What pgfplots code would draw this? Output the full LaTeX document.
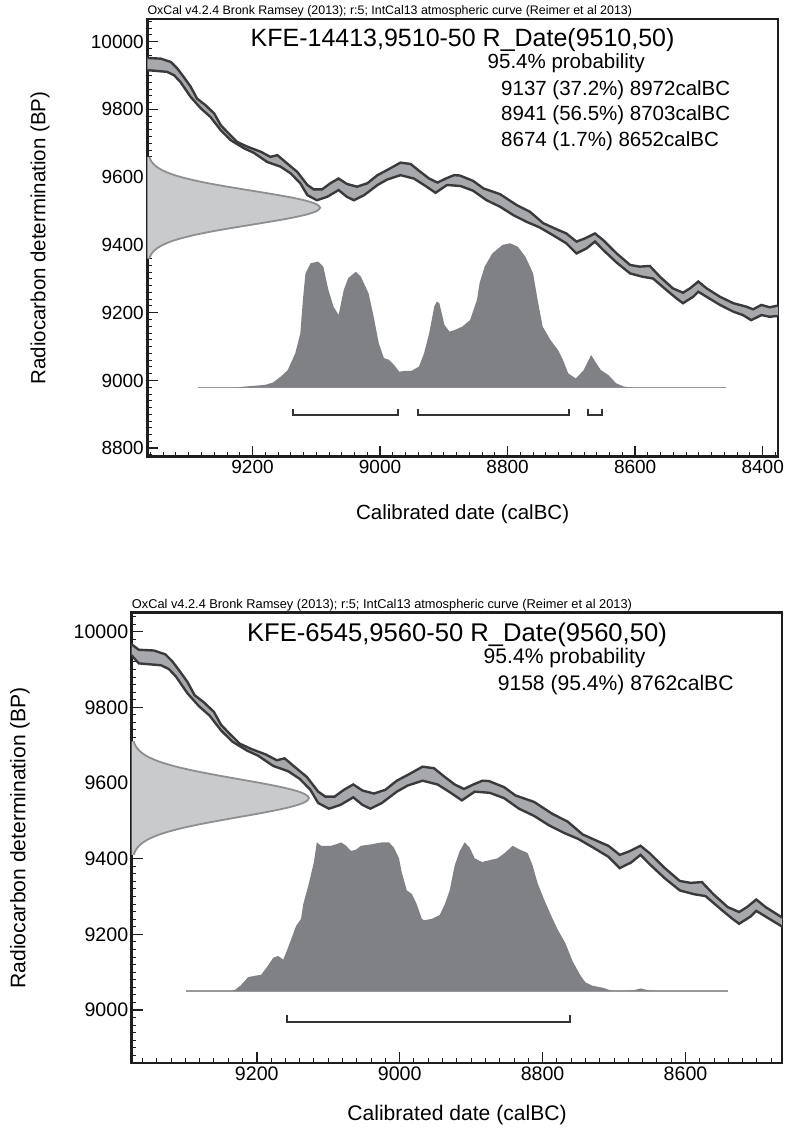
\documentclass[border=0pt]{standalone}
\usepackage{fontspec}
\setmainfont{Liberation Sans}
\usepackage{pgfplots}
\usepackage{pgfplotstable}
\pgfplotsset{compat=1.18}
\usepgfplotslibrary{fillbetween}

\definecolor{band}{HTML}{A7A8AB}
\definecolor{bandline}{HTML}{3A3A3C}
\definecolor{gauss}{HTML}{C9CACC}
\definecolor{gaussline}{HTML}{8E8F91}
\definecolor{post}{HTML}{808184}
\definecolor{baseln}{HTML}{9C9C9E}
\definecolor{framec}{HTML}{1E1E1E}
\definecolor{brack}{HTML}{333333}

% IntCal13 curve, upper edge (calBC, BP)
\pgfplotstableread{
x y
9395 9985
9375 9966
9365 9952
9344 9950
9328 9940
9318 9921
9308 9896
9297 9867
9287 9832
9274 9813
9260 9788
9250 9754
9240 9734
9224 9704
9208 9690
9187 9675
9172 9660
9161 9665
9146 9641
9130 9616
9114 9577
9104 9564
9091 9564
9078 9582
9065 9596
9052 9580
9036 9572
9020 9582
9004 9606
8989 9621
8968 9643
8952 9639
8937 9616
8923 9596
8910 9584
8897 9596
8884 9606
8875 9605
8854 9589
8838 9567
8812 9550
8786 9518
8765 9498
8744 9464
8718 9442
8708 9434
8692 9410
8679 9419
8663 9434
8650 9414
8629 9375
8608 9341
8593 9336
8577 9338
8561 9306
8541 9272
8525 9259
8514 9272
8501 9292
8488 9272
8467 9247
8446 9228
8426 9218
8415 9210
8402 9223
8389 9216
8379 9220
8360 9222
}\calhi

% IntCal13 curve, lower edge (calBC, BP)
\pgfplotstableread{
x y
9395 9958
9375 9937
9365 9916
9334 9911
9323 9901
9313 9881
9297 9837
9281 9803
9266 9778
9250 9739
9234 9709
9213 9685
9198 9672
9177 9645
9156 9631
9140 9611
9125 9582
9114 9547
9099 9532
9083 9542
9065 9562
9052 9542
9041 9532
9025 9547
9004 9577
8989 9593
8968 9606
8947 9596
8931 9577
8913 9554
8895 9577
8874 9574
8854 9560
8833 9532
8812 9513
8791 9488
8770 9468
8750 9452
8729 9429
8708 9405
8692 9375
8676 9390
8663 9410
8650 9385
8629 9348
8608 9316
8588 9306
8572 9301
8551 9267
8535 9242
8525 9228
8509 9247
8501 9262
8488 9247
8467 9223
8446 9203
8431 9193
8418 9178
8402 9193
8389 9188
8379 9190
8360 9192
}\callo

% R_Date(9510,50) drawn from the y axis
\pgfplotstableread{
x y
9362.0 9360
9359.6 9370
9355.8 9380
9349.8 9390
9340.9 9400
9328.4 9410
9311.3 9420
9289.7 9430
9263.4 9440
9233.0 9450
9200.6 9460
9168.3 9470
9138.7 9480
9114.9 9490
9099.4 9500
9094.0 9510
9099.4 9520
9114.9 9530
9138.7 9540
9168.3 9550
9200.6 9560
9233.0 9570
9263.4 9580
9289.7 9590
9311.3 9600
9328.4 9610
9340.9 9620
9349.8 9630
9355.8 9640
9359.6 9650
9362.0 9660
}\gaussA

% R_Date(9560,50)
\pgfplotstableread{
x y
9372.2 9410
9370.1 9420
9366.6 9430
9361.1 9440
9353.0 9450
9341.5 9460
9325.9 9470
9306.1 9480
9282.0 9490
9254.2 9500
9224.6 9510
9195.0 9520
9167.9 9530
9146.1 9540
9132.0 9550
9127.0 9560
9132.0 9570
9146.1 9580
9167.9 9590
9195.0 9600
9224.6 9610
9254.2 9620
9282.0 9630
9306.1 9640
9325.9 9650
9341.5 9660
9353.0 9670
9361.1 9680
9366.6 9690
9370.1 9700
9372.2 9710
}\gaussB

% Gaussian fill outlines closed along the axis
\pgfplotstableread{
x y
9400 9360
9362.0 9360
9359.6 9370
9355.8 9380
9349.8 9390
9340.9 9400
9328.4 9410
9311.3 9420
9289.7 9430
9263.4 9440
9233.0 9450
9200.6 9460
9168.3 9470
9138.7 9480
9114.9 9490
9099.4 9500
9094.0 9510
9099.4 9520
9114.9 9530
9138.7 9540
9168.3 9550
9200.6 9560
9233.0 9570
9263.4 9580
9289.7 9590
9311.3 9600
9328.4 9610
9340.9 9620
9349.8 9630
9355.8 9640
9359.6 9650
9362.0 9660
9400 9660
}\gaussAfill

\pgfplotstableread{
x y
9410 9410
9372.2 9410
9370.1 9420
9366.6 9430
9361.1 9440
9353.0 9450
9341.5 9460
9325.9 9470
9306.1 9480
9282.0 9490
9254.2 9500
9224.6 9510
9195.0 9520
9167.9 9530
9146.1 9540
9132.0 9550
9127.0 9560
9132.0 9570
9146.1 9580
9167.9 9590
9195.0 9600
9224.6 9610
9254.2 9620
9282.0 9630
9306.1 9640
9325.9 9650
9341.5 9660
9353.0 9670
9361.1 9680
9366.6 9690
9370.1 9700
9372.2 9710
9410 9710
}\gaussBfill

% posterior KFE-14413 (baseline 8979)
\pgfplotstableread{
x y
9285 8979
9228 8979
9212 8982
9180 8987
9168 8994
9156 9011
9145 9030
9133 9080
9125 9139
9121 9238
9117 9316
9109 9346
9097 9351
9089 9336
9081 9267
9073 9218
9065 9193
9057 9267
9050 9302
9038 9321
9030 9306
9018 9257
9010 9188
9002 9110
8994 9066
8986 9061
8978 9046
8970 9026
8962 9028
8951 9028
8939 9041
8931 9080
8923 9139
8915 9218
8911 9233
8907 9228
8899 9164
8891 9144
8883 9149
8871 9159
8859 9178
8848 9238
8844 9287
8836 9336
8824 9375
8808 9400
8796 9405
8784 9395
8772 9365
8760 9316
8753 9238
8745 9159
8733 9120
8721 9090
8713 9060
8705 9021
8693 9006
8681 9030
8669 9075
8661 9051
8654 9031
8642 9016
8630 8992
8618 8982
8602 8979
8457 8979
}\postA

% posterior KFE-6545 (baseline 9050)
\pgfplotstableread{
x y
9299 9050
9237 9050
9230 9054
9223 9064
9212 9087
9201 9091
9194 9093
9187 9110
9177 9138
9170 9143
9163 9133
9156 9166
9145 9222
9138 9241
9135 9279
9127 9335
9120 9391
9116 9443
9110 9434
9096 9434
9089 9438
9082 9443
9075 9434
9068 9420
9061 9424
9054 9434
9039 9438
9025 9443
9015 9443
9008 9429
9001 9401
8997 9363
8990 9316
8983 9307
8976 9279
8969 9241
8966 9237
8955 9241
8944 9251
8937 9279
8930 9316
8923 9382
8916 9420
8909 9443
8902 9429
8895 9401
8885 9391
8874 9396
8863 9401
8853 9415
8842 9434
8832 9424
8821 9415
8814 9382
8807 9335
8797 9288
8786 9241
8779 9213
8768 9176
8758 9129
8747 9091
8740 9073
8730 9064
8716 9059
8705 9052
8695 9050
8673 9052
8663 9057
8652 9052
8638 9050
8541 9050
}\postB

\pgfplotsset{
  oxcal/.style={
    scale only axis,
    x dir=reverse,
    scaled ticks=false,
    axis line style={line width=2.6pt, draw=framec},
    tick align=inside,
    tick pos=left,
    major tick length=11pt,
    minor tick length=4.5pt,
    major tick style={line width=1.5pt, draw=framec},
    minor tick style={line width=1.0pt, draw=framec},
    /pgf/number format/1000 sep={},
    /pgf/number format/assume math mode=true,
    ytick={8800,9000,9200,9400,9600,9800,10000},
  },
}

\begin{document}
\begin{tikzpicture}

% ---------------- top panel ----------------
\begin{axis}[oxcal,
  at={(147.3pt,679.3pt)}, anchor=south west,
  width=630.7pt, height=437.7pt,
  xmin=8376, xmax=9365, ymin=8775, ymax=10067,
  xtick={8400,8600,8800,9000,9200},
  minor xtick={8380,8400,...,9360},
  minor ytick={8780,8800,...,10060},
  ticklabel style={font=\fontsize{19}{19}\selectfont},
]
\addplot[fill=gauss, draw=none] table[x=x,y=y] {\gaussAfill};
\addplot[gaussline, line width=1.8pt, smooth] table[x=x,y=y] {\gaussA};

\addplot[name path=hiA, draw=none] table[x=x,y=y] {\calhi};
\addplot[name path=loA, draw=none] table[x=x,y=y] {\callo};
\addplot[band] fill between[of=hiA and loA];
\addplot[bandline, line width=2.4pt] table[x=x,y=y] {\calhi};
\addplot[bandline, line width=2.4pt] table[x=x,y=y] {\callo};

\addplot[baseln, line width=1.8pt] coordinates {(9285,8979) (8457,8979)};
\addplot[fill=post, draw=none] table[x=x,y=y] {\postA};

\addplot[brack, line width=2pt] coordinates {(9137,8915) (9137,8897) (8972,8897) (8972,8915)};
\addplot[brack, line width=2pt] coordinates {(8941,8915) (8941,8897) (8703,8897) (8703,8915)};
\addplot[brack, line width=2pt] coordinates {(8674,8915) (8674,8897) (8652,8897) (8652,8915)};
\end{axis}

\node[anchor=base west, inner sep=0pt, font=\fontsize{12.4}{13}\selectfont] at (147.3pt,1121pt)
  {OxCal v4.2.4 Bronk Ramsey (2013); r:5; IntCal13 atmospheric curve (Reimer et al 2013)};
\node[anchor=center, inner sep=0pt, font=\fontsize{25}{27}\selectfont] at (462.6pt,1096pt)
  {KFE-14413,9510-50 R\_Date(9510,50)};
\node[anchor=west, inner sep=0pt, font=\fontsize{20.5}{22}\selectfont] at (487.5pt,1072.7pt) {95.4\% probability};
\node[anchor=west, inner sep=0pt, font=\fontsize{20.5}{22}\selectfont] at (501pt,1046pt) {9137 (37.2\%) 8972calBC};
\node[anchor=west, inner sep=0pt, font=\fontsize{20.5}{22}\selectfont] at (501pt,1021pt) {8941 (56.5\%) 8703calBC};
\node[anchor=west, inner sep=0pt, font=\fontsize{20.5}{22}\selectfont] at (501pt,994.3pt) {8674 (1.7\%) 8652calBC};
\node[anchor=center, inner sep=0pt, font=\fontsize{20.5}{22}\selectfont] at (462.6pt,622pt) {Calibrated date (calBC)};
\node[anchor=center, inner sep=0pt, rotate=90, font=\fontsize{20.5}{22}\selectfont] at (40pt,898pt) {Radiocarbon determination (BP)};

% ---------------- bottom panel ----------------
\begin{axis}[oxcal,
  at={(131.7pt,73pt)}, anchor=south west,
  width=650.3pt, height=450.7pt,
  xmin=8465, xmax=9375, ymin=8860, ymax=10051,
  xtick={8600,8800,9000,9200},
  minor xtick={8480,8500,...,9360},
  minor ytick={8860,8880,...,10040},
  ticklabel style={font=\fontsize{19.6}{20}\selectfont},
]
\addplot[fill=gauss, draw=none] table[x=x,y=y] {\gaussBfill};
\addplot[gaussline, line width=1.8pt, smooth] table[x=x,y=y] {\gaussB};

\addplot[name path=hiB, draw=none] table[x=x,y=y] {\calhi};
\addplot[name path=loB, draw=none] table[x=x,y=y] {\callo};
\addplot[band] fill between[of=hiB and loB];
\addplot[bandline, line width=2.4pt] table[x=x,y=y] {\calhi};
\addplot[bandline, line width=2.4pt] table[x=x,y=y] {\callo};

\addplot[baseln, line width=1.8pt] coordinates {(9299,9050) (8541,9050)};
\addplot[fill=post, draw=none] table[x=x,y=y] {\postB};

\addplot[brack, line width=2pt] coordinates {(9158,8987) (9158,8969) (8762,8969) (8762,8987)};
\end{axis}

\node[anchor=base west, inner sep=0pt, font=\fontsize{12.8}{13}\selectfont] at (131.7pt,527pt)
  {OxCal v4.2.4 Bronk Ramsey (2013); r:5; IntCal13 atmospheric curve (Reimer et al 2013)};
\node[anchor=center, inner sep=0pt, font=\fontsize{25.6}{27}\selectfont] at (457pt,501.6pt)
  {KFE-6545,9560-50 R\_Date(9560,50)};
\node[anchor=west, inner sep=0pt, font=\fontsize{21.1}{22}\selectfont] at (483.5pt,478pt) {95.4\% probability};
\node[anchor=west, inner sep=0pt, font=\fontsize{21.1}{22}\selectfont] at (497.6pt,451.4pt) {9158 (95.4\%) 8762calBC};
\node[anchor=center, inner sep=0pt, font=\fontsize{21.1}{22}\selectfont] at (457pt,21pt) {Calibrated date (calBC)};
\node[anchor=center, inner sep=0pt, rotate=90, font=\fontsize{21.1}{22}\selectfont] at (20pt,298.3pt) {Radiocarbon determination (BP)};

\path (0pt,0pt) rectangle (788pt,1136pt);
\end{tikzpicture}
\end{document}
